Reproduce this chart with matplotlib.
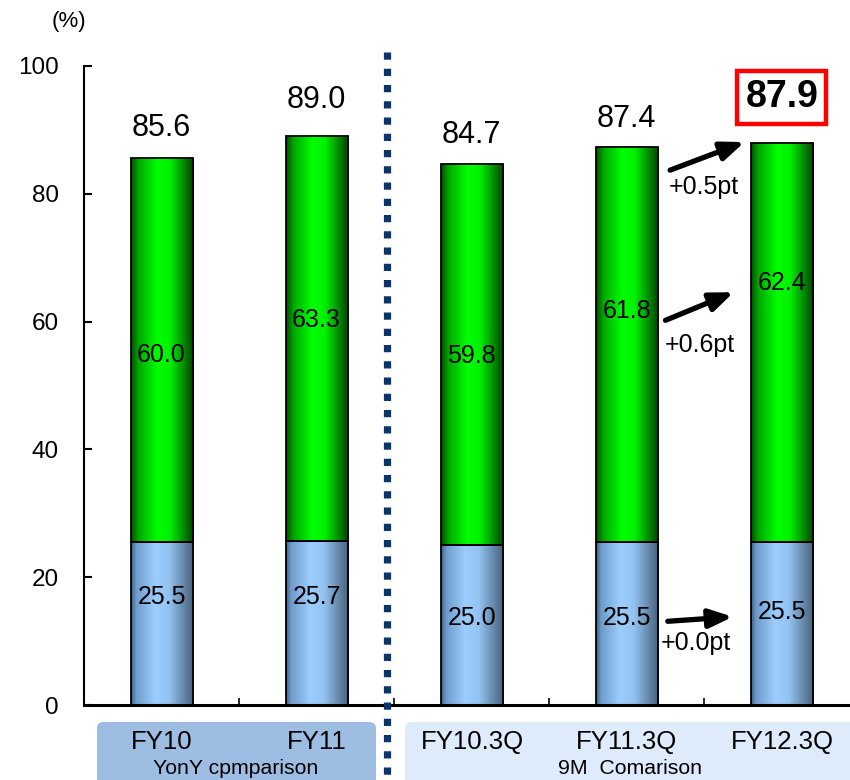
import numpy as np
import matplotlib
matplotlib.use("Agg")
import matplotlib.pyplot as plt
from matplotlib.colors import LinearSegmentedColormap
from matplotlib.patches import FancyBboxPatch
from matplotlib.lines import Line2D

plt.rcParams['font.family'] = ['Liberation Sans', 'DejaVu Sans']

# ---- data ----
categories = ["FY10", "FY11", "FY10.3Q", "FY11.3Q", "FY12.3Q"]
lower_vals = [25.5, 25.7, 25.0, 25.5, 25.5]
upper_vals = [60.0, 63.3, 59.8, 61.8, 62.4]
totals = [85.6, 89.0, 84.7, 87.4, 87.9]
group_titles = ["YonY cpmparison", "9M  Comarison"]
diff_labels = ["+0.5pt", "+0.6pt", "+0.0pt"]
yticks = [0, 20, 40, 60, 80, 100]

# label heights (data units)
total_label_y = [90.3, 94.7, 89.2, 91.7, 95.1]
upper_label_y = [54.8, 60.2, 54.6, 61.6, 66.0]
lower_label_y = [16.9, 16.9, 13.6, 13.6, 14.6]

fig = plt.figure(figsize=(8.5, 7.8), dpi=100)
ax = fig.add_axes([84/850, 1-705/780, (850-84)/850, (705-66)/780])
x = np.arange(len(categories))
width = 0.4

blue_cmap = LinearSegmentedColormap.from_list(
    "bl", [(0, '#3f5f82'), (0.08, '#6f9bcb'), (0.38, '#9ccdfc'),
           (0.6, '#94c3f2'), (1.0, '#465f7a')])
green_cmap = LinearSegmentedColormap.from_list(
    "gr", [(0, '#004d00'), (0.12, '#00a800'), (0.42, '#00ff00'),
           (0.62, '#00f000'), (1.0, '#004000')])

upper_h = [t - b for t, b in zip(totals, lower_vals)]
bars_lo = ax.bar(x, lower_vals, width, facecolor='none', edgecolor='black',
                 linewidth=1.3, zorder=3)
bars_hi = ax.bar(x, upper_h, width, bottom=lower_vals, facecolor='none',
                 edgecolor='black', linewidth=1.3, zorder=3)

grad = np.linspace(0, 1, 256).reshape(1, -1)
for bars, cmap in ((bars_lo, blue_cmap), (bars_hi, green_cmap)):
    for b in bars:
        x0, y0 = b.get_x(), b.get_y()
        im = ax.imshow(grad, cmap=cmap, aspect='auto', zorder=2,
                       extent=(x0, x0 + b.get_width(), y0, y0 + b.get_height()))
        im.set_clip_path(b)

ax.set_xlim(-0.5, 4.44)
ax.set_ylim(0, 100)

for s in ('top', 'right'):
    ax.spines[s].set_visible(False)
ax.spines['left'].set_linewidth(1.5)
ax.spines['bottom'].set_linewidth(2.2)
ax.spines['left'].set_bounds(0, 100)

ax.set_yticks(yticks)
ax.set_yticklabels([str(v) for v in yticks], fontsize=17.5)
ax.tick_params(axis='y', direction='in', length=6, width=1.5, pad=18)
ax.set_xticks(x[:-1] + 0.5)
ax.set_xticklabels([])
ax.tick_params(axis='x', direction='in', length=5, width=1.2)

# value labels
for i in range(len(categories)):
    if i == len(categories) - 1:
        ax.text(x[i], total_label_y[i], f"{totals[i]:.1f}", ha='center',
                va='center', fontsize=27, fontweight='bold', zorder=5,
                bbox=dict(boxstyle='square,pad=0.22', facecolor='white',
                          edgecolor='#ff0000', linewidth=3.2))
    else:
        ax.text(x[i], total_label_y[i], f"{totals[i]:.1f}", ha='center',
                va='center', fontsize=22)
    ax.text(x[i], upper_label_y[i], f"{upper_vals[i]:.1f}", ha='center',
            va='center', fontsize=18, zorder=5)
    ax.text(x[i], lower_label_y[i], f"{lower_vals[i]:.1f}", ha='center',
            va='center', fontsize=18, zorder=5)

# change arrows between the last two periods
arrow_specs = [((3.28, 83.7), (3.76, 88.1), (3.50, 81.1)),
               ((3.25, 60.2), (3.69, 64.6), (3.47, 56.3)),
               ((3.265, 13.1), (3.684, 13.8), (3.445, 9.7))]
for (start, end, lab), txt in zip(arrow_specs, diff_labels):
    ax.annotate('', xy=end, xytext=start, zorder=6,
                arrowprops=dict(arrowstyle='-|>,head_length=0.7,head_width=0.28',
                                lw=3.8, color='black', shrinkA=0, shrinkB=0,
                                mutation_scale=20))
    ax.text(lab[0], lab[1], txt, ha='center', va='center', fontsize=18,
            zorder=6)

ax.text(-0.594, 106.9, "(%)", ha='center', va='center', fontsize=16,
        clip_on=False)

# group boxes under the axis
fig.patches.append(FancyBboxPatch((97/850, -0.02), (376-97)/850, 1-722/780 + 0.02,
                                  boxstyle='round,pad=0,rounding_size=0.008',
                                  transform=fig.transFigure, facecolor='#9dbee2',
                                  edgecolor='none', zorder=0))
fig.patches.append(FancyBboxPatch((405/850, -0.02), (860-405)/850, 1-722/780 + 0.02,
                                  boxstyle='round,pad=0,rounding_size=0.008',
                                  transform=fig.transFigure, facecolor='#ddebfb',
                                  edgecolor='none', zorder=0))

for i, c in enumerate(categories):
    xf = (162 + 155 * i) / 850
    fig.text(xf, 1 - 742/780, c, ha='center', va='center', fontsize=18.5)
fig.text(236/850, 1 - 768/780, group_titles[0], ha='center', va='center',
         fontsize=15.3)
fig.text(630/850, 1 - 768/780, group_titles[1], ha='center', va='center',
         fontsize=15.3)

# dotted divider between annual and nine-month periods
fig.lines.append(Line2D([387/850, 387/850], [1 - 52/780, 0], transform=fig.transFigure,
                        color='#0b3468', linewidth=5.2,
                        linestyle=(0, (1, 1.25)), solid_capstyle='butt',
                        zorder=10))

fig.savefig("out.png", dpi=100)
